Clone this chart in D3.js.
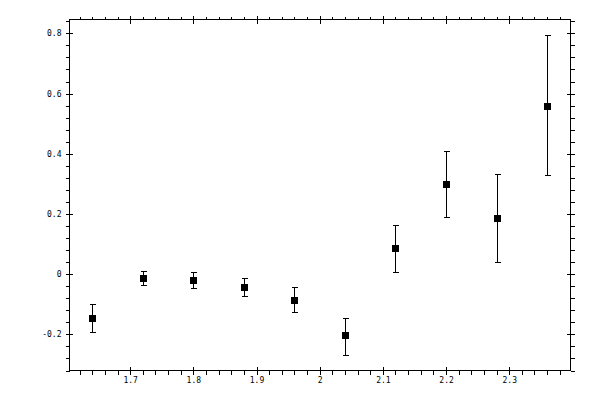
<!DOCTYPE html>
<html>
<head>
<meta charset="utf-8">
<script src="https://cdn.jsdelivr.net/npm/d3@7"></script>
<style>
  body { margin: 0; background: #fff; }
  svg { display: block; }
  .tick text { font-family: "DejaVu Sans Mono", monospace; font-size: 8px; fill: #000; }
</style>
</head>
<body>
<svg id="chart" width="600" height="400"></svg>
<script>
// data
var xVals  = [1.64, 1.72, 1.80, 1.88, 1.96, 2.04, 2.12, 2.20, 2.28, 2.36];
var yVals  = [-0.147, -0.013, -0.020, -0.043, -0.087, -0.202, 0.087, 0.300, 0.187, 0.560];
var yUpper = [-0.100, 0.010, 0.007, -0.013, -0.043, -0.145, 0.165, 0.410, 0.333, 0.793];
var yLower = [-0.193, -0.037, -0.047, -0.073, -0.127, -0.267, 0.007, 0.190, 0.040, 0.328];

var xMajor = [1.7, 1.8, 1.9, 2.0, 2.1, 2.2, 2.3];
var yMajor = [-0.2, 0, 0.2, 0.4, 0.6, 0.8];

var svg = d3.select("#chart"),
	pLeft = 69.5, pRight = 570.5, pTop = 19.5, pBottom = 370.5;

var x = d3.scaleLinear().domain([1.604, 2.397]).range([pLeft, pRight]);
var y = d3.scaleLinear().domain([-0.32, 0.846]).range([pBottom, pTop]);

var xMinor = d3.range(1.62, 2.39, 0.02).filter(function(v) {
	return xMajor.every(function(m) { return Math.abs(m - v) > 1e-6; });
});
var yMinor = d3.range(-0.32, 0.85, 0.04).filter(function(v) {
	return yMajor.every(function(m) { return Math.abs(m - v) > 1e-6; });
});

function fmt(d) { return Math.abs(d) < 1e-9 ? "0" : d3.format("~g")(d).replace("\u2212", "-"); }

function addAxis(axis, tx, ty) {
	var g = svg.append("g")
		.attr("transform", "translate(" + tx + "," + ty + ")")
		.attr("shape-rendering", "crispEdges")
		.call(axis);
	g.select(".domain").remove();
	g.selectAll("line").attr("stroke", "#000");
	return g;
}

// bottom: labelled major ticks crossing the frame, minor outward
addAxis(d3.axisBottom(x).tickValues(xMajor).tickSize(4).tickPadding(3).tickFormat(fmt), 0, pBottom);
addAxis(d3.axisBottom(x).tickValues(xMajor).tickSize(-4).tickFormat(""), 0, pBottom);
addAxis(d3.axisBottom(x).tickValues(xMinor).tickSize(4).tickFormat(""), 0, pBottom);
// top
addAxis(d3.axisTop(x).tickValues(xMajor).tickSize(4).tickFormat(""), 0, pTop);
addAxis(d3.axisTop(x).tickValues(xMajor).tickSize(-4).tickFormat(""), 0, pTop);
addAxis(d3.axisTop(x).tickValues(xMinor).tickSize(3).tickFormat(""), 0, pTop);
// left
addAxis(d3.axisLeft(y).tickValues(yMajor).tickSize(4).tickPadding(4).tickFormat(fmt), pLeft, 0);
addAxis(d3.axisLeft(y).tickValues(yMajor).tickSize(-3).tickFormat(""), pLeft, 0);
addAxis(d3.axisLeft(y).tickValues(yMinor).tickSize(4).tickFormat(""), pLeft, 0);
// right
addAxis(d3.axisRight(y).tickValues(yMajor).tickSize(4).tickFormat(""), pRight, 0);
addAxis(d3.axisRight(y).tickValues(yMajor).tickSize(-4).tickFormat(""), pRight, 0);
addAxis(d3.axisRight(y).tickValues(yMinor).tickSize(4).tickFormat(""), pRight, 0);

// frame
svg.append("rect")
	.attr("x", pLeft).attr("y", pTop)
	.attr("width", pRight - pLeft).attr("height", pBottom - pTop)
	.attr("fill", "none").attr("stroke", "#000")
	.attr("shape-rendering", "crispEdges");

// error bars + markers
var pts = svg.append("g").selectAll("g")
	.data(xVals.map(function(v, i) { return {x: v, y: yVals[i], hi: yUpper[i], lo: yLower[i]}; }))
	.enter().append("g")
	.attr("shape-rendering", "crispEdges");

pts.append("line")
	.attr("x1", function(d) { return Math.round(x(d.x)) + 0.5; })
	.attr("x2", function(d) { return Math.round(x(d.x)) + 0.5; })
	.attr("y1", function(d) { return y(d.hi); })
	.attr("y2", function(d) { return y(d.lo); })
	.attr("stroke", "#000");

pts.selectAll(".cap")
	.data(function(d) { return [{x: d.x, v: d.hi}, {x: d.x, v: d.lo}]; })
	.enter().append("line")
	.attr("class", "cap")
	.attr("x1", function(d) { return Math.round(x(d.x)) - 2.5; })
	.attr("x2", function(d) { return Math.round(x(d.x)) + 3.5; })
	.attr("y1", function(d) { return Math.round(y(d.v)) + 0.5; })
	.attr("y2", function(d) { return Math.round(y(d.v)) + 0.5; })
	.attr("stroke", "#000");

pts.append("rect")
	.attr("x", function(d) { return Math.round(x(d.x)) - 3; })
	.attr("y", function(d) { return Math.round(y(d.y)) - 3; })
	.attr("width", 7)
	.attr("height", 7)
	.attr("fill", "#000");
</script>
</body>
</html>
